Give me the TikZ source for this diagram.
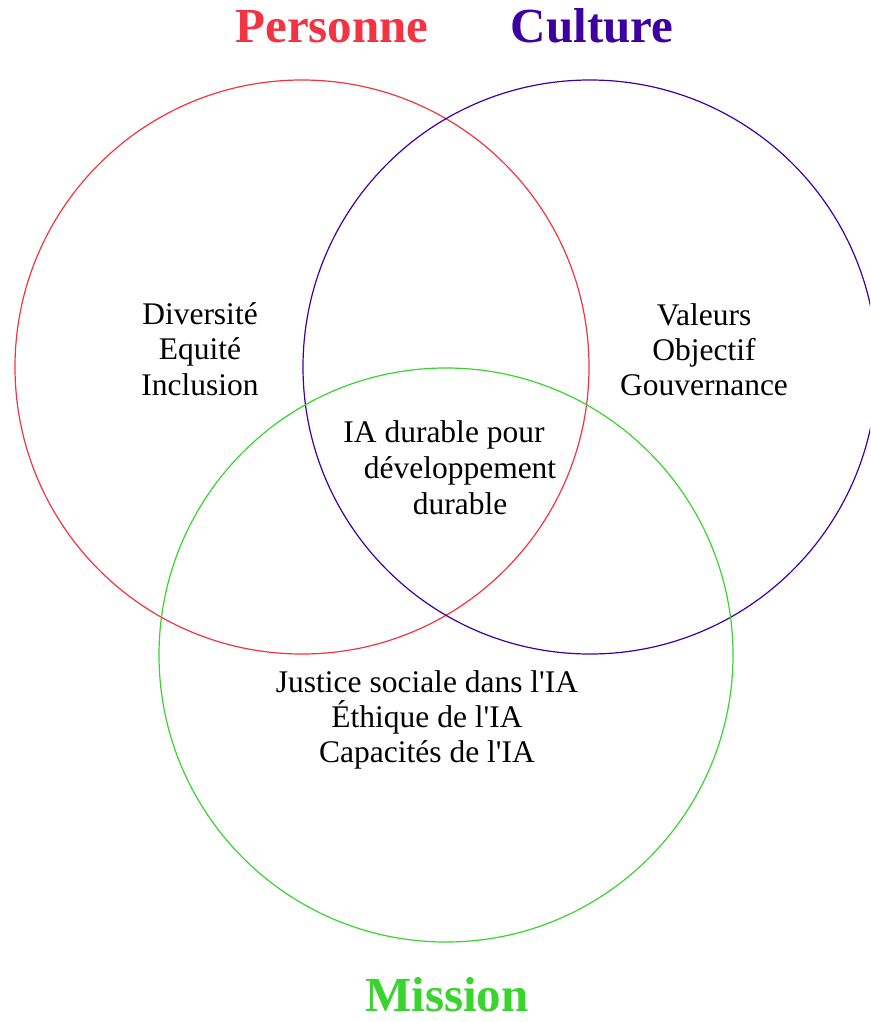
\documentclass[tikz,border=0pt]{standalone}
\usepackage{fontspec}
\setmainfont{Liberation Serif}
\definecolor{persred}{RGB}{242,52,66}
\definecolor{cultpurple}{RGB}{62,0,160}
\definecolor{missgreen}{RGB}{58,212,46}
\newcommand{\apos}{\textquotesingle}
\begin{document}
\begin{tikzpicture}[x=1pt,y=-1pt,
  ring/.style={draw=#1,line width=1.2pt},
  title/.style={font=\fontsize{49}{55}\selectfont\bfseries,text=#1,anchor=base,inner sep=0pt},
  body/.style={font=\fontsize{31.5}{36}\selectfont,anchor=base,inner sep=0pt}]
\useasboundingbox (0,0) rectangle (870,1022);
\clip (0,0) rectangle (870,1022);
% the three sets
\draw[ring=persred] (302,367) circle (287);
\draw[ring=cultpurple] (590,367) circle (287);
\draw[ring=missgreen] (446,655) circle (287);
% set titles
\node[title=persred] (tp) at (332,43) {Personne};
\node[title=cultpurple] (tc) at (592,43) {Culture};
\node[title=missgreen] (tm) at (447,1011) {Mission};
% Personne only
\node[body] (p1) at (200,324) {Diversité};
\node[body] (p2) at (200,359) {Equité};
\node[body] (p3) at (200,395) {Inclusion};
% Culture only
\node[body] (c1) at (704,325) {Valeurs};
\node[body] (c2) at (704,360) {Objectif};
\node[body] (c3) at (704,395) {Gouvernance};
% centre
\node[body] (m1) at (444,442) {IA durable pour};
\node[body] (m2) at (460,478) {développement};
\node[body] (m3) at (460,514) {durable};
% Mission only
\node[body] (g1) at (427,692) {Justice sociale dans l\apos IA};
\node[body] (g2) at (427,727) {Éthique de l\apos IA};
\node[body] (g3) at (427,762) {Capacités de l\apos IA};
\end{tikzpicture}
\end{document}
